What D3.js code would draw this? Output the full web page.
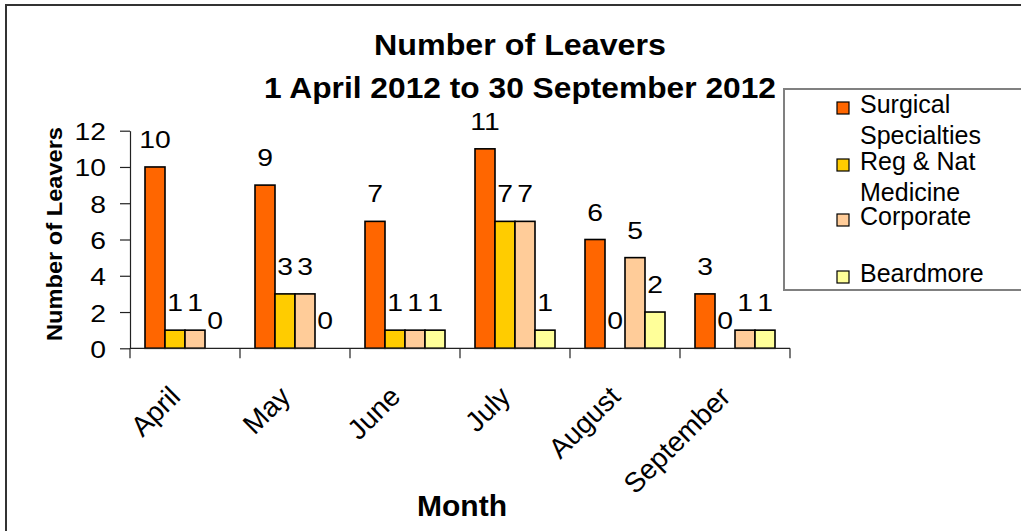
<!DOCTYPE html>
<html>
<head>
<meta charset="utf-8">
<script src="https://cdn.jsdelivr.net/npm/d3@7"></script>
<style>
  html, body { margin: 0; padding: 0; background: #fff; }
  svg { display: block; font-family: "Liberation Sans", Arial, sans-serif; }
</style>
</head>
<body>
<svg id="chart" width="1021" height="531"></svg>
<script>
// Leavers per month, by division
const months = ["April", "May", "June", "July", "August", "September"];
const surgical  = [10, 9, 7, 11, 6, 3];
const regNat    = [1, 3, 1, 7, 0, 0];
const corporate = [1, 3, 1, 7, 5, 1];
const beardmore = [0, 0, 1, 1, 2, 1];
const seriesLabels = [["Surgical", "Specialties"], ["Reg & Nat", "Medicine"], ["Corporate"], ["Beardmore"]];
const seriesColors = ["#FF6600", "#FFCC00", "#FFCC99", "#FFFF99"];
const yTicks = [0, 2, 4, 6, 8, 10, 12];
const titleLines = ["Number of Leavers", "1 April 2012 to 30 September 2012"];

const series = [surgical, regNat, corporate, beardmore].map((values, i) => ({
  key: i, label: seriesLabels[i], color: seriesColors[i], values
}));

const svg = d3.select("#chart");
const digitStretch = "scale(1.18,1)";   // numerals are drawn slightly wide

// chart frame (only the top and left edges fall inside the page)
svg.append("rect")
  .attr("x", 6).attr("y", 5).attr("width", 1200).attr("height", 700)
  .attr("fill", "#fff").attr("stroke", "#333").attr("stroke-width", 2);

const plot = { left: 130, right: 790, top: 130.7, bottom: 348.3 };

const x0 = d3.scaleBand().domain(months).range([plot.left, plot.right]).paddingInner(0).paddingOuter(0);
const x1 = d3.scaleBand().domain(series.map(s => s.key)).range([0, x0.bandwidth()])
  .paddingInner(0).paddingOuter(0.75);
const y = d3.scaleLinear().domain([0, 12]).range([plot.bottom, plot.top]);

// title
svg.append("g").selectAll("text").data(titleLines).join("text")
  .attr("x", 520).attr("y", (d, i) => i === 0 ? 55 : 98)
  .attr("text-anchor", "middle")
  .attr("font-size", 29).attr("font-weight", "bold")
  .attr("textLength", (d, i) => i === 0 ? 292 : 512)
  .attr("lengthAdjust", "spacingAndGlyphs")
  .text(d => d);

// y axis
const yAxis = svg.append("g")
  .attr("transform", `translate(${plot.left},0)`)
  .call(d3.axisLeft(y).tickValues(yTicks).tickSize(10).tickSizeOuter(0));
yAxis.select(".domain").attr("stroke", "#222").attr("stroke-width", 1.2);
yAxis.selectAll(".tick line").attr("stroke", "#222").attr("stroke-width", 1.2);
yAxis.selectAll(".tick text")
  .attr("x", 0).attr("dy", 0)
  .attr("transform", `translate(-24,9) ${digitStretch}`)
  .attr("font-size", 24).attr("font-family", "Liberation Sans, Arial, sans-serif")
  .attr("fill", "#000");

// y axis title
svg.append("text")
  .attr("transform", `translate(62,234) rotate(-90)`)
  .attr("text-anchor", "middle")
  .attr("font-size", 22).attr("font-weight", "bold")
  .attr("textLength", 214).attr("lengthAdjust", "spacingAndGlyphs")
  .text("Number of Leavers");

// bars
const groups = svg.append("g").selectAll("g").data(series).join("g")
  .attr("fill", d => d.color);

groups.selectAll("rect")
  .data(s => s.values.map((v, j) => ({ s: s.key, m: months[j], v })))
  .join("rect")
  .filter(d => d.v > 0)
  .attr("x", d => x0(d.m) + x1(d.s))
  .attr("y", d => y(d.v))
  .attr("width", x1.bandwidth())
  .attr("height", d => y(0) - y(d.v))
  .attr("stroke", "#000").attr("stroke-width", 1.6);

// value labels
groups.selectAll("text")
  .data(s => s.values.map((v, j) => ({ s: s.key, m: months[j], v })))
  .join("text")
  .attr("transform", d =>
    `translate(${x0(d.m) + x1(d.s) + x1.bandwidth() / 2},${y(d.v) - 19}) ${digitStretch}`)
  .attr("text-anchor", "middle")
  .attr("font-size", 24).attr("fill", "#000")
  .text(d => d.v);

// category axis: line with ticks at the band edges
const xAxis = svg.append("g").attr("transform", `translate(0,${plot.bottom})`);
xAxis.append("line")
  .attr("x1", plot.left).attr("x2", plot.right)
  .attr("stroke", "#222").attr("stroke-width", 1.2);
const edges = months.map(m => x0(m)).concat([x0.range()[1]]);
xAxis.selectAll("line.edge").data(edges).join("line")
  .attr("class", "edge")
  .attr("x1", d => d).attr("x2", d => d).attr("y1", 0).attr("y2", 10)
  .attr("stroke", "#222").attr("stroke-width", 1.2);
xAxis.selectAll("text").data(months).join("text")
  .attr("transform", d => `translate(${x0(d) + x0.bandwidth() / 2 - 3},50) rotate(-45)`)
  .attr("text-anchor", "end")
  .attr("font-size", 28).attr("fill", "#000")
  .text(d => d);

// x axis title
svg.append("text")
  .attr("x", 462).attr("y", 516)
  .attr("text-anchor", "middle")
  .attr("font-size", 29).attr("font-weight", "bold")
  .attr("textLength", 90).attr("lengthAdjust", "spacingAndGlyphs")
  .text("Month");

// legend
const legend = svg.append("g");
legend.append("rect")
  .attr("x", 784).attr("y", 89).attr("width", 400).attr("height", 201)
  .attr("fill", "#fff").attr("stroke", "#808080").attr("stroke-width", 2);
const baselines = [113, 170, 225, 282];
const items = legend.selectAll("g.item").data(series).join("g").attr("class", "item")
  .attr("transform", (d, i) => `translate(0,${baselines[i]})`);
items.append("rect")
  .attr("x", 837).attr("y", -11).attr("width", 12).attr("height", 12)
  .attr("fill", d => d.color).attr("stroke", "#000").attr("stroke-width", 1.2);
items.append("text")
  .attr("x", 860).attr("font-size", 25).attr("fill", "#000")
  .selectAll("tspan").data(d => d.label).join("tspan")
  .attr("x", 860).attr("y", (d, i) => i * 31)
  .text(d => d);
</script>
</body>
</html>
